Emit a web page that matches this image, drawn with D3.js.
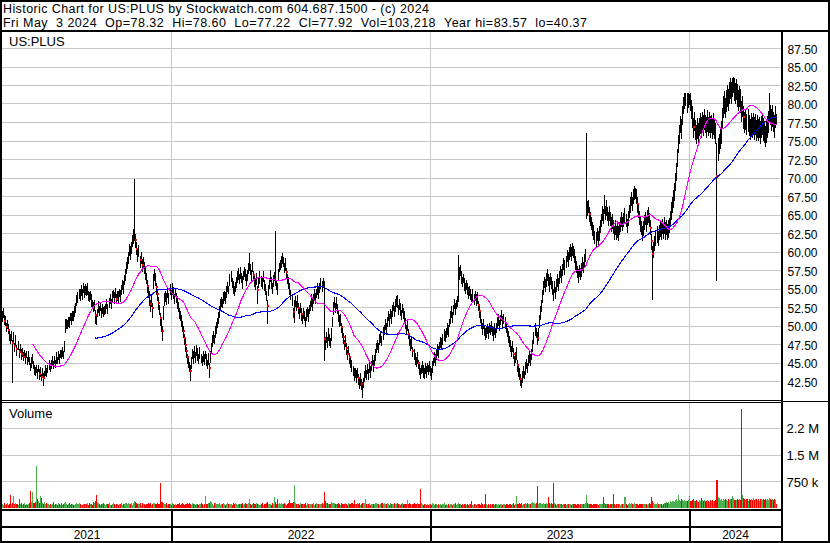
<!DOCTYPE html>
<html>
<head>
<meta charset="utf-8">
<title>US:PLUS historic chart</title>
<script src="https://cdn.jsdelivr.net/npm/d3@7"></script>
<style>
  html, body { margin: 0; padding: 0; background: #fff; }
  svg { display: block; }
</style>
</head>
<body>
<svg id="chart" width="830" height="543"></svg>
<script>
// ---- Daily data, May 2021 .. May 3 2024 ----
const closes = [
51.2,51.8,50.6,50.9,49.8,50.3,49.4,48.9,48.2,48.7,
47.6,48.4,47.2,47.9,46.8,47.3,46.4,46.9,46.1,46.6,
45.8,46.3,45.6,46.1,45.4,45.9,45.2,44.6,45.1,45.5,
44.8,44.1,43.7,44.3,43.6,44.2,43.4,43.9,43.1,43.6,
42.9,43.5,44.0,43.6,44.3,44.8,44.2,44.9,45.3,44.8,
45.4,45.0,45.7,45.3,46.1,45.6,46.3,46.0,46.6,46.2,
47.2,49.9,50.4,50.1,50.8,50.5,51.2,50.9,51.6,51.3,
52.0,52.6,53.3,53.9,54.5,54.1,54.8,54.4,55.0,54.6,
55.1,54.7,54.9,54.2,53.8,54.3,53.5,53.0,52.4,52.9,
51.4,50.9,51.8,52.6,52.1,52.6,51.9,52.4,51.8,52.2,
52.4,52.9,52.5,53.2,53.6,53.1,53.9,54.4,53.8,54.6,
53.6,54.2,53.8,54.5,54.1,55.0,55.6,55.2,56.3,57.0,
57.8,58.6,59.4,60.2,59.8,60.7,61.4,62.0,62.6,61.5,
60.4,59.6,60.1,58.9,59.3,58.2,58.7,57.9,57.2,56.5,
55.4,54.6,53.8,52.9,53.5,52.4,56.1,57.0,56.3,55.2,
54.2,53.1,52.3,51.0,50.2,49.3,51.8,53.6,54.2,53.7,
54.5,53.9,54.8,54.3,55.0,54.4,53.8,54.5,53.9,53.2,
52.6,51.8,51.2,50.6,50.1,49.2,48.3,47.4,46.5,45.7,
45.2,44.6,43.8,45.1,46.3,45.8,46.5,45.9,46.7,46.2,
45.6,46.4,45.8,45.2,46.0,45.5,46.1,45.4,44.9,45.6,
44.2,45.8,47.2,47.9,48.6,48.2,49.1,49.8,50.5,51.2,
52.0,52.8,53.4,53.0,53.7,54.2,53.8,54.6,55.3,54.9,
56.2,56.8,55.9,55.2,54.6,55.4,56.0,56.6,57.1,56.5,
57.2,56.6,55.9,56.8,57.4,56.9,56.2,57.0,57.8,58.3,
57.6,57.0,57.8,56.8,56.2,55.6,56.4,54.8,55.9,56.6,
56.2,55.8,56.5,55.6,55.0,54.2,52.6,54.8,55.9,56.7,
55.8,55.2,56.0,56.6,56.3,55.7,55.1,56.9,57.8,58.4,
58.6,59.2,58.5,57.9,58.3,57.2,56.5,55.8,55.1,54.3,
53.6,51.8,52.6,53.4,52.8,53.3,52.4,51.8,52.5,51.6,
51.1,51.8,51.2,50.7,51.5,52.0,51.4,52.2,52.8,53.5,
52.9,53.8,54.3,53.6,54.5,55.0,54.4,55.3,55.8,55.2,
55.9,48.2,47.6,48.5,47.9,48.8,48.2,47.8,48.9,50.6,
52.4,53.2,52.6,53.0,52.2,51.4,50.6,50.9,49.8,49.2,
48.4,47.6,47.9,47.0,46.2,46.6,45.8,45.1,44.6,44.0,
43.5,43.8,43.2,43.7,42.9,42.3,42.8,42.1,41.57,42.4,
43.2,43.9,43.5,44.1,43.6,44.4,43.9,44.7,45.2,44.6,
45.5,46.1,46.9,47.6,47.1,48.0,48.6,48.1,49.0,49.5,
50.2,49.6,50.6,51.3,50.8,51.7,51.2,52.0,52.6,52.1,
52.8,53.4,53.0,52.3,52.9,52.2,51.6,52.3,51.8,51.1,
50.4,49.6,50.1,48.8,48.1,47.4,47.8,46.6,46.0,45.6,
45.2,45.7,44.9,44.3,43.6,44.1,44.5,43.8,43.7,44.3,
43.8,44.5,43.9,44.6,44.0,43.6,44.4,45.1,45.8,45.4,
46.2,46.8,46.4,47.3,47.9,47.5,48.3,48.8,48.4,49.2,
49.7,49.3,50.4,51.2,51.8,51.3,52.2,52.8,52.3,53.0,
53.4,57.8,57.1,57.5,56.6,56.0,56.4,55.6,55.1,55.7,
55.0,54.4,54.9,54.3,53.8,54.2,53.6,54.2,53.5,53.9,
52.8,51.9,51.2,50.4,49.6,50.2,49.5,48.9,49.2,49.7,
49.1,49.8,49.3,50.0,49.4,48.9,49.6,49.2,49.8,50.3,
50.8,50.2,50.9,51.3,50.6,51.0,50.4,49.8,49.1,48.6,
48.0,47.3,46.7,47.2,46.1,45.4,45.8,46.3,44.6,44.0,
43.5,42.8,42.2,43.1,43.8,43.4,44.3,44.9,44.5,45.3,
45.9,45.4,46.3,47.2,48.4,49.6,49.1,48.3,49.0,50.6,
51.8,52.7,53.9,55.2,56.0,55.4,56.3,56.9,56.2,55.6,
56.4,55.8,55.1,54.3,55.2,54.6,55.4,56.1,55.7,56.5,
57.2,56.8,57.6,58.3,57.9,58.7,59.4,59.0,59.8,60.3,
59.7,60.4,60.0,59.4,58.6,58.0,57.3,56.8,57.5,57.0,
57.6,58.3,57.9,58.8,59.5,66.3,65.8,66.2,65.1,64.5,
63.8,63.2,62.6,62.0,61.7,62.4,61.8,62.6,63.5,64.2,
65.3,64.8,66.0,65.4,65.9,65.1,64.6,65.2,64.4,63.8,
64.1,63.3,62.7,63.2,62.5,63.0,62.4,63.1,63.8,64.3,
63.7,64.4,64.9,64.2,63.6,64.5,65.4,66.3,67.2,66.6,
67.4,67.9,68.2,67.5,66.4,65.5,64.6,63.8,63.2,62.6,
63.2,63.9,64.5,63.8,64.6,65.1,64.4,63.2,61.4,59.6,
60.3,61.2,61.8,62.4,61.9,62.6,63.2,62.7,63.4,62.9,
63.5,62.8,63.3,62.7,63.1,63.6,64.4,65.5,66.4,67.1,
68.0,69.3,70.8,72.6,74.4,75.9,77.2,76.6,78.4,79.8,
80.6,80.9,80.2,80.7,81.0,80.4,79.3,78.2,76.8,77.6,
76.5,75.9,76.7,76.1,76.9,77.4,76.8,77.6,77.1,77.8,
77.3,76.9,77.6,77.0,77.5,76.8,77.3,76.7,77.2,76.6,
76.1,70.2,73.8,74.6,75.4,76.2,78.1,79.6,80.2,79.5,
80.4,81.0,80.6,81.5,82.1,81.6,82.4,82.87,82.0,81.5,
81.9,81.2,80.5,81.0,80.4,79.1,79.6,78.2,77.5,77.9,
77.3,77.8,77.1,76.6,77.2,76.8,77.4,76.7,77.2,76.5,
77.0,76.4,76.9,76.2,76.8,77.3,76.6,76.1,75.6,76.3,
76.8,77.6,79.2,78.5,77.8,78.4,77.6,76.9,78.3,77.92
];

// distance from close up to the day's high, in tenths of a dollar
const upTenths = [
7,5,8,4,6,5,8,4,7,5, 5,7,4,8,5,6,4,6,7,4, 6,4,7,5,4,7,5,4,6,7, 4,6,7,4,5,4,7,5,4,6,
7,4,6,7,4,5,7,4,6,4, 5,4,7,5,4,6,4,7,5,4, 7,10,5,7,4,7,5,8,4,7, 7,5,8,6,5,8,7,5,7,8,
5,7,8,5,7,4,7,5,8,6, 7,5,4,7,5,6,4,5,7,5, 5,7,4,5,7,5,8,4,7,5, 7,5,8,4,7,5,6,8,5,7,
8,7,5,8,9,6,8,10,72,8, 9,6,8,5,7,8,5,7,8,6, 8,6,9,5,8,7,9,6,8,5, 7,8,5,7,8,6,9,8,5,7,
7,5,8,5,7,8,5,6,5,8, 6,5,7,8,5,7,5,8,6,5, 7,5,8,6,5,8,7,5,6,8, 5,7,4,7,5,6,5,8,5,7,
8,7,5,8,6,5,8,7,5,6, 7,8,5,6,8,5,7,8,6,5, 8,6,5,8,7,5,6,8,7,5, 7,5,8,6,5,7,8,5,6,15,
7,5,8,6,5,8,7,5,6,8, 5,7,8,5,6,5,8,7,5,8, 7,5,8,6,65,5,7,8,6,5, 8,6,7,5,8,6,5,8,6,5,
7,5,8,6,5,8,7,5,6,8, 5,6,8,5,7,5,8,6,5,8, 7,5,6,8,5,7,8,5,6,8, 5,78,8,6,5,8,7,5,8,6,
8,6,5,8,7,5,8,6,5,7, 6,5,8,7,5,6,5,8,7,5, 7,5,8,5,6,5,8,7,8,5, 6,8,5,7,5,8,6,5,8,7,
5,7,8,5,6,8,7,5,8,6, 7,8,5,6,8,5,7,8,6,5, 8,6,11,5,7,8,5,6,5,8, 6,5,8,7,5,8,6,5,8,7,
5,7,5,8,6,5,7,8,5,6, 7,5,8,6,5,7,8,5,6,8, 5,7,8,5,6,8,5,7,8,5, 6,8,5,7,8,5,6,8,7,5,
6,17,8,7,8,6,5,8,7,5, 7,8,5,6,5,8,7,5,8,6, 5,8,6,5,8,7,5,8,6,5, 7,5,8,6,5,8,7,5,6,8,
8,6,5,8,7,5,8,6,5,7, 6,8,5,7,8,5,6,8,7,5, 8,6,5,8,7,5,8,6,5,7, 6,8,5,8,7,8,6,8,7,8,
8,7,9,8,6,9,8,7,8,9, 7,8,9,7,8,6,9,8,7,8, 8,9,7,8,9,7,8,9,8,7, 9,8,7,9,8,7,8,9,7,8,
8,9,7,8,9,97,10,8,9,8, 9,8,10,8,9,8,10,9,8,9, 9,10,17,8,10,9,8,10,9,8, 10,9,8,10,9,8,10,9,8,10,
9,8,10,9,8,10,9,10,9,8, 10,9,4,9,10,8,9,10,9,8, 9,10,8,9,10,9,8,10,9,11, 10,9,11,10,9,10,9,11,10,9,
11,12,9,10,12,9,11,12,10,12, 12,13,11,12,13,12,11,13,12,11, 8,5,12,7,3,10,12,14,13,12, 13,12,14,13,12,13,14,12,13,14,
12,13,15,12,14,15,12,13,15,14, 13,45,15,13,14,15,13,14,15,13, 14,15,13,14,14,13,11,7,15,13, 14,15,13,14,15,13,14,15,13,14,
13,15,14,13,15,14,13,15,14,13, 14,15,13,14,15,13,14,15,13,14, 15,14,22,13,15,14,13,15,14,6.8
];

// distance from close down to the day's low, in tenths of a dollar
const downTenths = [
6,7,4,8,5,7,4,8,6,7, 52,6,7,4,8,5,7,4,6,7, 4,6,7,4,6,7,4,6,7,5, 6,7,4,6,7,4,6,7,5,4,
9,6,7,4,6,7,4,6,7,5, 4,6,7,4,6,7,5,4,7,6, 6,8,7,5,8,7,5,7,8,6, 7,8,5,7,8,6,7,8,5,7,
8,6,7,8,5,7,8,7,5,8, 11,7,5,8,7,5,8,7,5,7, 7,5,8,7,5,8,7,5,7,8, 6,8,7,5,8,7,6,8,7,8,
7,8,9,7,8,9,7,8,10,9, 8,9,7,10,8,9,7,8,9,8, 9,8,10,9,8,12,10,9,8,9, 8,9,8,9,10,13,9,8,9,8,
7,8,5,7,8,7,8,5,7,8, 7,8,5,7,8,7,8,9,7,8, 8,7,12,8,7,8,7,8,7,8, 7,8,7,5,8,7,5,8,7,8,
12,7,8,7,8,5,7,8,7,8, 8,7,8,5,7,8,7,8,7,5, 7,8,7,8,5,7,8,7,8,7, 8,7,8,5,7,8,7,8,7,8,
7,8,5,7,8,7,8,18,7,8, 8,7,5,8,7,8,23,7,8,7, 7,8,7,5,8,7,8,7,5,8, 7,8,5,7,8,7,8,7,8,7,
8,7,21,8,7,8,7,8,7,8, 7,8,5,7,8,7,8,5,7,8, 8,7,8,5,7,8,7,8,7,5, 7,29,8,7,8,7,8,7,8,7,
8,7,8,7,5,8,7,8,7,8, 7,8,7,8,7,5,8,7,8,7, 8,7,8,7,8,7,8,7,12,7, 7,8,7,5,8,7,8,7,5,8,
8,7,5,8,7,5,8,7,8,7, 7,8,7,5,8,7,8,7,5,8, 8,7,5,8,7,8,7,5,8,7, 7,8,7,5,8,7,8,7,5,8,
7,8,7,8,7,5,8,7,8,7, 8,7,5,8,7,8,7,5,7,8, 7,8,7,5,8,7,8,7,5,8, 8,7,5,8,7,8,7,5,8,7,
7,45,8,7,8,7,5,8,7,8, 8,7,8,7,5,8,7,8,7,8, 7,8,7,8,7,5,8,7,8,7, 8,7,5,8,7,8,7,8,7,5,
7,8,7,5,8,7,8,7,5,8, 8,7,8,7,5,8,7,8,7,8, 7,9,5,8,7,5,8,7,8,7, 8,7,8,7,8,9,7,8,9,8,
9,8,7,9,8,7,9,8,7,9, 8,7,9,8,7,9,8,7,9,8, 7,9,8,7,9,8,7,9,8,9, 8,9,7,8,9,8,7,9,8,7,
9,8,7,9,8,18,9,8,10,9, 8,10,9,8,10,9,8,10,9,8, 10,9,8,10,9,8,10,9,8,10, 9,8,10,9,8,10,9,8,10,9,
8,10,9,8,10,9,8,10,9,10, 9,8,10,9,10,8,9,10,9,10, 10,9,8,10,9,11,10,9,11,60, 11,10,9,11,10,9,11,10,9,11,
10,11,9,10,11,10,9,11,10,11, 11,10,12,11,10,12,11,13,12,11, 12,11,13,12,11,13,12,14,13,12, 13,12,14,13,12,14,13,12,14,13,
12,14,13,12,14,13,12,14,13,12, 14,141,15,13,14,15,13,14,15,13, 14,13,15,14,13,15,14,13,15,14, 13,15,14,13,15,14,13,15,14,13,
14,15,13,14,15,13,14,15,13,14, 15,13,14,15,13,14,15,13,14,15, 13,14,15,13,14,15,13,14,15,7
];

// daily volume, thousands of shares
const volumeK = [
110,95,130,85,120,140,90,115,365,105, 130,340,120,150,110,95,250,100,140,85,
100,130,90,120,85,110,140,475,160,450, 130,150,170,1175,240,200,130,340,280,150,
120,180,110,140,100,95,120,85,110,170, 90,120,100,85,140,110,95,130,90,105,
150,180,120,95,110,130,90,115,100,85, 95,110,130,100,140,120,90,85,105,110,
120,100,130,95,140,110,125,90,160,150, 200,365,170,130,110,95,120,105,140,100,
90,115,100,130,95,85,110,140,100,95, 120,100,90,115,105,130,95,110,125,140,
130,110,150,100,120,140,95,130,200,160, 140,120,110,150,95,130,100,115,90,120,
110,140,100,130,95,120,140,150,110,100, 130,120,115,700,180,160,150,120,100,130,
95,120,110,90,130,100,85,110,95,120, 100,130,90,115,140,110,95,125,105,130,
110,140,120,95,130,100,115,90,120,105, 95,110,130,100,85,120,327,110,100,130,
140,190,180,110,95,130,150,120,110,100, 130,95,120,110,140,100,90,120,130,110,
100,120,95,130,110,140,105,90,115,125, 120,100,135,95,110,140,125,100,150,250,
110,95,120,130,100,115,140,105,120,95, 110,130,95,120,105,140,180,110,100,120,
95,130,115,300,160,120,260,110,130,105, 140,120,100,130,110,95,120,140,235,150,
130,170,655,140,110,120,100,95,130,115, 120,100,115,140,95,130,110,120,100,125,
110,130,95,120,140,100,115,125,105,130, 120,440,200,130,150,110,120,100,170,140,
130,150,110,120,100,140,115,95,130,110, 120,100,135,110,95,140,120,105,130,115,
215,120,100,130,110,140,95,120,150,130, 140,260,110,120,100,130,95,115,125,105,
110,130,140,100,120,95,115,130,110,140, 120,105,130,110,95,140,115,120,100,130,
115,125,140,100,110,95,120,130,105,115, 110,120,235,100,130,115,95,120,140,110,
100,130,120,110,545,140,115,95,120,110, 95,110,85,120,100,90,130,105,95,115,
100,90,120,85,110,95,105,130,90,100, 85,110,95,120,100,90,115,105,130,95,
110,140,120,100,95,110,85,120,100,90, 105,95,120,110,205,90,100,115,85,110,
120,100,95,130,110,90,105,400,120,95, 100,85,110,95,120,105,90,115,100,95,
110,90,105,120,85,100,95,115,105,90, 100,120,95,110,130,90,115,345,120,100,
140,115,130,95,110,120,150,100,135,110, 125,105,140,160,150,120,130,625,110,140,
130,115,100,140,125,110,150,120,310,135, 120,140,110,710,130,115,95,125,105,110,
100,115,95,120,110,90,105,125,100,115, 95,110,120,100,115,90,105,110,95,120,
105,115,100,120,130,375,150,120,110,100, 110,95,120,105,100,115,90,110,120,105,
110,317,140,120,100,115,105,95,110,120, 100,400,110,95,120,105,115,100,90,110,
120,105,300,110,95,115,130,100,150,120, 110,130,120,100,115,95,110,105,120,100,
115,100,120,110,95,105,130,115,300,200, 150,120,110,130,100,115,125,110,95,120,
150,135,175,130,160,120,185,170,210,190, 180,220,240,210,375,230,190,260,215,200,
230,195,185,215,345,205,190,225,260,210, 190,220,205,180,235,200,270,215,195,230,
210,185,225,200,180,215,195,230,210,185, 220,790,300,280,230,260,210,240,220,250,
230,210,250,225,265,240,345,270,235,215, 230,250,215,265,235,2780,355,275,250,220,
245,210,265,230,250,225,280,215,240,260, 230,255,210,265,240,225,260,215,245,230,
250,225,290,240,215,265,230,250,225,103.218
];

const years = ["2021", "2022", "2023", "2024"];
const yearStartIndex = [0, 163, 414, 664];
const priceTicks = [42.5, 45, 47.5, 50, 52.5, 55, 57.5, 60, 62.5, 65, 67.5, 70, 72.5, 75, 77.5, 80, 82.5, 85, 87.5];
const volumeTicks = [750000, 1500000, 2250000];
const volumeTickLabels = ["750 k", "1.5 M", "2.2 M"];
const symbol = "US:PLUS";
const titleText = "Historic Chart for US:PLUS by Stockwatch.com 604.687.1500 - (c) 2024";
const lastDateText = "Fri May  3 2024";
const lastOpen = 78.32;
const maShort = 30, maLong = 90;

// ---- derived series ----
const N = closes.length;
const highs = closes.map((c, i) => c + upTenths[i] / 10);
const lows = closes.map((c, i) => c - downTenths[i] / 10);
const volumes = volumeK.map(v => Math.round(v * 1000));
const sma = n => closes.map((c, i) => i < n - 1 ? null : d3.mean(closes.slice(i - n + 1, i + 1)));
const maS = sma(maShort), maL = sma(maLong);

// ---- layout ----
const W = 830, H = 543;
const PL = 2, PR = 781, PT = 32, PB = 400;   // price panel
const VT = 402, VB = 509;                    // volume panel
const FONT = '"Liberation Sans", Arial, Helvetica, sans-serif';

const svg = d3.select("#chart");
svg.append("rect").attr("width", W).attr("height", H).attr("fill", "#fff");

const x = d3.scaleLinear().domain([0, N - 1]).range([2.5, 2.5 + 1.034 * (N - 1)]);
const y = d3.scaleLinear().domain([42.5, 87.5]).range([381, 48]);
const yv = d3.scaleLinear().domain([0, 2250000]).range([508, 428]);
const px = i => Math.floor(x(i));

const defs = svg.append("defs");
defs.append("clipPath").attr("id", "pclip").append("rect")
  .attr("x", PL).attr("y", PT).attr("width", PR - PL).attr("height", PB - PT);
defs.append("clipPath").attr("id", "vclip").append("rect")
  .attr("x", PL).attr("y", VT + 1).attr("width", PR - PL).attr("height", VB - VT - 1);

// ---- grid ----
const grid = svg.append("g").attr("stroke", "#c8c8c8").attr("stroke-width", 1)
  .attr("shape-rendering", "crispEdges");
grid.selectAll("line.ph").data(priceTicks).join("line").attr("class", "ph")
  .attr("x1", PL).attr("x2", PR)
  .attr("y1", d => Math.round(y(d)) + 0.5).attr("y2", d => Math.round(y(d)) + 0.5);
grid.selectAll("line.vh").data(volumeTicks).join("line").attr("class", "vh")
  .attr("x1", PL).attr("x2", PR)
  .attr("y1", d => Math.round(yv(d)) + 0.5).attr("y2", d => Math.round(yv(d)) + 0.5);
const yearLines = yearStartIndex.slice(1);
grid.selectAll("line.pv").data(yearLines).join("line").attr("class", "pv")
  .attr("x1", d => px(d) + 0.5).attr("x2", d => px(d) + 0.5).attr("y1", PT).attr("y2", PB);
grid.selectAll("line.vv").data(yearLines).join("line").attr("class", "vv")
  .attr("x1", d => px(d) + 0.5).attr("x2", d => px(d) + 0.5).attr("y1", VT).attr("y2", VB);

// ---- price bars ----
const idx = d3.range(N);
const price = svg.append("g").attr("clip-path", "url(#pclip)");
price.append("g").attr("stroke", "#000").attr("stroke-width", 1).attr("shape-rendering", "crispEdges")
  .selectAll("line").data(idx).join("line")
  .attr("x1", i => px(i) + 0.5).attr("x2", i => px(i) + 0.5)
  .attr("y1", i => Math.round(y(highs[i])))
  .attr("y2", i => Math.round(y(lows[i])) + 1);

// close marks on sharp down days
price.append("g").attr("fill", "#ff0000")
  .selectAll("rect").data(idx.filter(i => i > 0 && closes[i] < closes[i - 1] * 0.984)).join("rect")
  .attr("x", i => px(i)).attr("y", i => Math.round(y(closes[i])) - 1)
  .attr("width", 2).attr("height", 2);

// ---- moving averages ----
const maLine = d3.line().defined(d => d != null).x((d, i) => x(i)).y(d => y(d));
price.append("path").datum(maL).attr("d", maLine).attr("fill", "none")
  .attr("stroke", "#0000ff").attr("stroke-width", 1.1).attr("shape-rendering", "crispEdges");
price.append("path").datum(maS).attr("d", maLine).attr("fill", "none")
  .attr("stroke", "#ff00ff").attr("stroke-width", 1.1).attr("shape-rendering", "crispEdges");

// ---- volume bars ----
svg.append("g").attr("clip-path", "url(#vclip)").attr("shape-rendering", "crispEdges")
  .selectAll("rect").data(idx).join("rect")
  .attr("x", i => px(i))
  .attr("width", i => Math.max(1, (i < N - 1 ? px(i + 1) : px(i) + 1) - px(i)))
  .attr("y", i => Math.round(yv(volumes[i])))
  .attr("height", i => 508 - Math.round(yv(volumes[i])))
  .attr("fill", i => (i === 0 || closes[i] >= closes[i - 1]) ? "#4cb050" : "#ff0000");

// ---- axes ----
const styleAxis = (g, size) => {
  g.select(".domain").remove();
  g.selectAll(".tick line").remove();
  g.selectAll("text").attr("font-family", FONT).attr("font-size", size).attr("fill", "#000");
};
svg.append("g").attr("transform", `translate(${PR + 2},0)`)
  .call(d3.axisRight(y).tickValues(priceTicks).tickFormat(d3.format(".2f")).tickSize(0).tickPadding(4.5))
  .call(g => styleAxis(g, 12))
  .call(g => g.selectAll("text").attr("dy", "0.42em"));
svg.append("g").attr("transform", `translate(${PR + 2},0)`)
  .call(d3.axisRight(yv).tickValues(volumeTicks).tickFormat((d, i) => volumeTickLabels[i]).tickSize(0).tickPadding(3.5))
  .call(g => styleAxis(g, 13))
  .call(g => g.selectAll("text").attr("dy", "0.36em"));

const yearEnds = yearStartIndex.slice(1).map(s => px(s)).concat([PR]);
const yearStartsPx = [PL].concat(yearStartIndex.slice(1).map(s => px(s)));
const yearMid = years.map((yr, k) => (yearStartsPx[k] + yearEnds[k]) / 2);
const xYear = d3.scaleOrdinal().domain(years).range(yearMid);
svg.append("g").attr("transform", `translate(0,${527})`)
  .call(d3.axisBottom(xYear).tickSize(0).tickPadding(3.6))
  .call(g => styleAxis(g, 12));

// ---- frames ----
const frame = svg.append("g").attr("stroke", "#000").attr("fill", "none").attr("shape-rendering", "crispEdges");
frame.append("line").attr("x1", 0).attr("x2", W).attr("y1", 30.5).attr("y2", 30.5).attr("stroke-width", 2);
frame.append("line").attr("x1", PL).attr("x2", PR).attr("y1", 400.5).attr("y2", 400.5);
frame.append("line").attr("x1", PL).attr("x2", PR).attr("y1", 402.5).attr("y2", 402.5);
frame.append("line").attr("x1", PR).attr("x2", W).attr("y1", 401.5).attr("y2", 401.5);
frame.append("line").attr("x1", 0).attr("x2", PR).attr("y1", 510).attr("y2", 510).attr("stroke-width", 2);
frame.append("line").attr("x1", 0).attr("x2", PR).attr("y1", 527).attr("y2", 527).attr("stroke-width", 2);
frame.selectAll("line.ysep").data(yearLines).join("line").attr("class", "ysep")
  .attr("x1", d => px(d) + 0.5).attr("x2", d => px(d) + 0.5).attr("y1", 510).attr("y2", 541)
  .attr("stroke-width", 2);
frame.append("line").attr("x1", PR + 1).attr("x2", PR + 1).attr("y1", 31).attr("y2", H).attr("stroke-width", 2);
frame.append("rect").attr("x", 1).attr("y", 1).attr("width", W - 2).attr("height", H - 2.5).attr("stroke-width", 2);

// ---- header and panel labels ----
const last = N - 1;
const yearHi = d3.max(highs), yearLo = d3.min(lows);
const f2 = d3.format(".2f");
const infoText = `${lastDateText}  Op=${f2(lastOpen)}  Hi=${f2(highs[last])}  Lo=${f2(lows[last])}  Cl=${f2(closes[last])}  Vol=${d3.format(",")(volumes[last])}  Year hi=${f2(yearHi)}  lo=${f2(yearLo)}`;

const nb = s => s.replace(/ /g, "\u00a0");
const txt = (s, tx, ty, size, len) => {
  const t = svg.append("text")
    .attr("x", tx).attr("y", ty).attr("font-family", FONT).attr("font-size", size)
    .attr("fill", "#000").text(nb(s));
  if (len) t.attr("textLength", len).attr("lengthAdjust", "spacing");
  return t;
};
txt(titleText, 3, 13, 12.5, 426);
txt(infoText, 3, 27, 12.5, 584);
txt(symbol, 9, 45.6, 13);
txt("Volume", 9, 418.2, 13);
</script>
</body>
</html>
